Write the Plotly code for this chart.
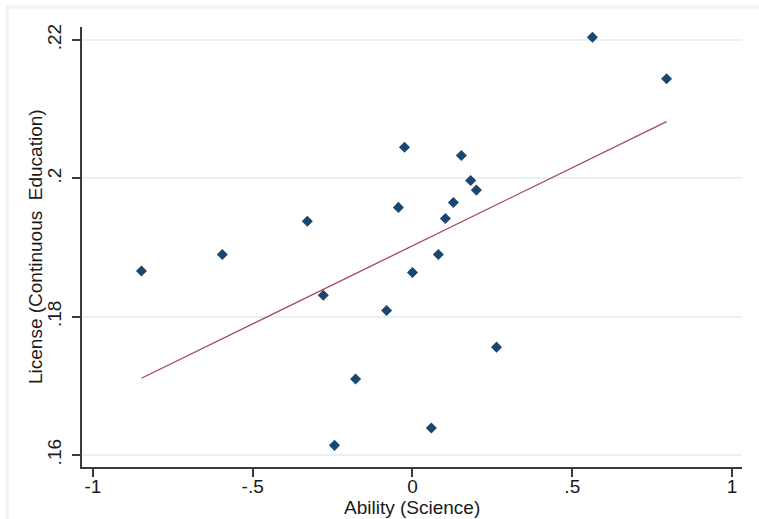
import plotly.graph_objects as go

# Science ability vs. share licensed through continuous education
ability = [-0.848, -0.595, -0.329, -0.279, -0.244, -0.178, -0.081, -0.044, -0.025, 0.000,
           0.059, 0.081, 0.103, 0.128, 0.153, 0.182, 0.200, 0.263, 0.563, 0.795]
license_ce = [0.1866, 0.1890, 0.1938, 0.1831, 0.1614, 0.1710, 0.1809, 0.1958, 0.2045, 0.1864,
              0.1639, 0.1890, 0.1942, 0.1965, 0.2033, 0.1997, 0.1983, 0.1756, 0.2204, 0.2144]

# Linear fit, evaluated at the ends of the ability range
fit_x = [-0.848, 0.795]
fit_y = [0.1711, 0.2082]

x_ticks = [-1, -0.5, 0, 0.5, 1]
x_tick_text = ["-1", "-.5", "0", ".5", "1"]
y_ticks = [0.16, 0.18, 0.20, 0.22]
y_tick_text = [".16", ".18", ".2", ".22"]

FONT = "Liberation Sans, Arial, sans-serif"
TEXT = "#1a1a1a"
AXIS = "#3a3a3a"
GRID = "#eaf1f3"

fig = go.Figure()
fig.add_trace(go.Scatter(
    x=ability, y=license_ce, mode="markers",
    marker=dict(symbol="diamond", size=8.5, color="#1a476f", line=dict(width=0)),
    showlegend=False, hoverinfo="x+y",
))
fig.add_trace(go.Scatter(
    x=fit_x, y=fit_y, mode="lines",
    line=dict(color="#a34a50", width=1.3),
    showlegend=False, hoverinfo="skip",
))

fig.update_layout(
    width=759, height=519,
    margin=dict(l=82, r=17, t=27, b=52),
    paper_bgcolor="white", plot_bgcolor="white",
    font=dict(family=FONT, size=19, color=TEXT),
    xaxis=dict(
        range=[-1.034, 1.031], tickvals=x_ticks, ticktext=x_tick_text,
        showgrid=False, zeroline=False,
        showline=True, linecolor=AXIS, linewidth=1.5,
        ticks="outside", ticklen=8, tickwidth=1.5, tickcolor=AXIS,
        ticklabelstandoff=-7,
        tickfont=dict(family=FONT, size=19, color=TEXT),
    ),
    yaxis=dict(
        range=[0.15827, 0.22188], tickvals=y_ticks, ticktext=y_tick_text,
        showgrid=True, gridcolor=GRID, gridwidth=1.5, zeroline=False,
        showline=True, linecolor=AXIS, linewidth=1.5,
        ticks="outside", ticklen=8, tickwidth=1.5, tickcolor=AXIS,
        tickangle=-90, ticklabelstandoff=4,
        tickfont=dict(family=FONT, size=19, color=TEXT),
    ),
    shapes=[dict(
        type="rect", xref="paper", yref="paper",
        x0=-0.1136, y0=-0.3, x1=1.2, y1=1.0455,
        line=dict(color="#edf2f4", width=3), layer="below",
    )],
    annotations=[
        dict(text="Ability (Science)", xref="paper", yref="paper",
             x=0.5, y=-0.092, xanchor="center", yanchor="middle",
             showarrow=False, font=dict(family=FONT, size=19, color=TEXT)),
        dict(text="License (Continuous  Education)", xref="paper", yref="paper",
             x=-0.0712, y=0.5, xanchor="center", yanchor="middle", textangle=-90,
             showarrow=False, font=dict(family=FONT, size=19, color=TEXT)),
    ],
)

fig.write_html("out.html")
